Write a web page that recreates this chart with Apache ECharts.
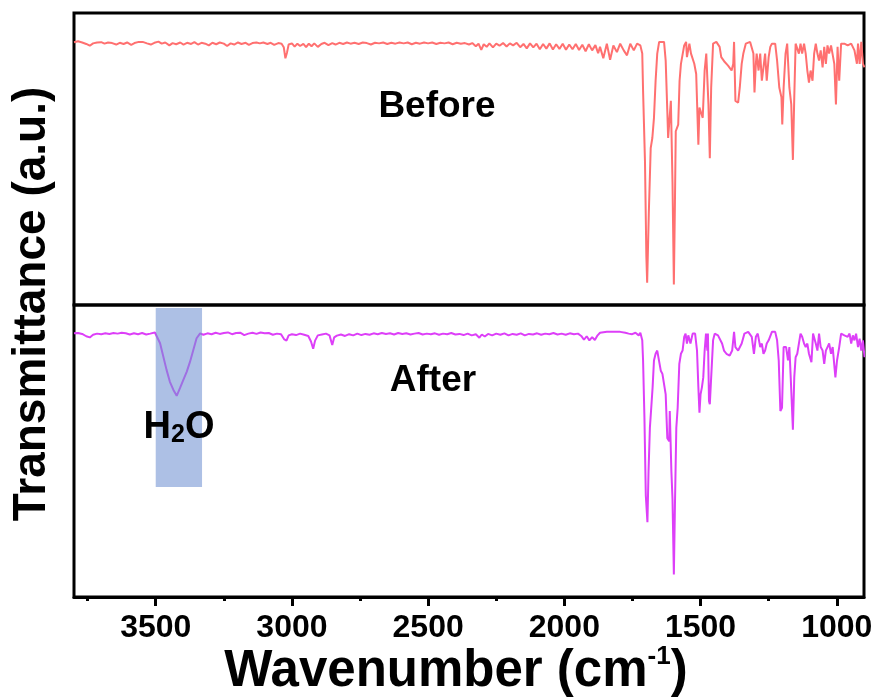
<!DOCTYPE html>
<html>
<head>
<meta charset="utf-8">
<script src="https://cdn.jsdelivr.net/npm/echarts@6/dist/echarts.min.js"></script>
<style>
  html, body { margin: 0; padding: 0; background: #fff; }
  #chart { width: 879px; height: 699px; }
</style>
</head>
<body>
<div id="chart"></div>
<script>
// x range of both panels (wavenumber, cm-1), axis runs high -> low
var xMin = 900
var xMax = 3800
var majorTicks = [3500, 3000, 2500, 2000, 1500, 1000]
var minorTicks = [3750, 3250, 2750, 2250, 1750, 1250]

// water band shading (bottom panel)
var waterBand = [3500, 3330]
var waterBandT = [99, 37.7]

// [wavenumber, transmittance]
var beforeSpectrum = [
  [3800,90.0],[3785,90.3],[3770,89.9],[3755,89.4],[3742,88.8],[3730,89.6],[3715,89.9],[3700,90.0],[3688,89.5],[3675,89.9],
  [3660,89.7],[3645,89.2],[3632,89.8],[3618,89.4],[3605,89.9],[3590,89.1],[3578,89.7],[3562,90.1],[3548,90.1],[3532,89.6],
  [3518,89.2],[3505,89.8],[3490,90.2],[3478,89.5],[3465,89.9],[3450,88.9],[3438,89.7],[3425,89.3],[3410,89.9],[3398,89.2],
  [3385,89.8],[3370,89.4],[3358,90.0],[3345,89.2],[3332,89.8],[3318,89.5],[3305,88.9],[3292,89.8],[3278,89.3],[3265,89.9],
  [3250,89.5],[3238,88.7],[3225,89.6],[3212,89.2],[3198,89.9],[3185,89.4],[3170,89.8],[3158,89.1],[3145,89.7],[3130,89.9],
  [3118,89.6],[3105,89.9],[3090,89.4],[3078,89.8],[3065,89.1],[3050,89.7],[3038,89.5],[3030,88.3],[3024,84.5],[3018,86.5],
  [3012,89.2],[3000,89.6],[2990,88.5],[2980,89.5],[2970,88.7],[2958,89.4],[2948,88.3],[2938,89.5],[2928,88.6],[2918,89.6],
  [2905,88.4],[2892,89.4],[2880,89.8],[2866,89.0],[2852,89.7],[2840,89.2],[2826,89.8],[2812,89.4],[2798,89.9],[2785,89.5],
  [2770,89.8],[2755,89.4],[2740,89.9],[2725,89.7],[2710,89.2],[2695,89.8],[2680,89.6],[2665,89.9],[2650,89.4],[2635,89.8],
  [2620,89.5],[2605,89.9],[2590,89.6],[2575,89.9],[2560,89.3],[2545,89.8],[2530,89.5],[2515,89.9],[2500,89.6],[2485,89.9],
  [2470,89.4],[2455,89.8],[2440,89.6],[2425,89.9],[2410,89.3],[2395,89.8],[2380,89.5],[2365,89.7],[2350,89.2],[2338,89.7],
  [2325,88.6],[2315,89.5],[2305,87.4],[2296,89.3],[2285,88.4],[2275,89.6],[2262,88.2],[2250,89.5],[2238,88.8],[2225,89.7],
  [2212,88.5],[2200,89.6],[2188,88.9],[2175,89.8],[2162,88.3],[2150,89.4],[2138,87.9],[2126,89.6],[2114,88.2],[2102,89.5],
  [2090,87.6],[2078,89.4],[2066,87.8],[2054,89.6],[2042,87.5],[2030,89.3],[2018,87.7],[2006,89.5],[1994,87.4],[1982,89.2],
  [1970,87.6],[1958,89.4],[1946,87.3],[1934,89.1],[1922,86.9],[1910,89.3],[1898,87.2],[1886,89.0],[1876,86.2],[1869,88.4],
  [1857,84.5],[1844,89.5],[1832,84.0],[1820,88.9],[1807,86.6],[1795,89.5],[1782,87.2],[1770,85.5],[1758,89.5],[1745,87.2],
  [1733,89.5],[1721,88.9],[1714,86.1],[1711,73.4],[1704,49.1],[1699,16.8],[1696,7.6],[1690,31.2],[1683,53.7],[1677,57.2],
  [1671,64.1],[1665,76.8],[1659,86.1],[1652,90.1],[1634,90.1],[1628,83.7],[1622,66.4],[1619,57.2],[1613,56.6],[1609,69.9],
  [1605,69.9],[1603,42.2],[1598,7.0],[1594,35.3],[1591,59.5],[1582,61.8],[1577,76.8],[1572,82.6],[1566,82.6],[1560,88.9],
  [1553,90.1],[1550,84.9],[1541,89.5],[1535,86.1],[1523,82.6],[1516,79.1],[1508,54.9],[1504,67.6],[1498,67.6],[1492,64.1],
  [1485,80.3],[1479,86.1],[1473,86.1],[1471,68.7],[1466,50.3],[1461,74.5],[1454,89.5],[1442,90.1],[1430,88.4],[1424,84.9],
  [1411,83.2],[1399,82.0],[1386,80.3],[1380,82.6],[1377,90.1],[1372,69.9],[1362,69.3],[1356,74.5],[1349,82.6],[1343,86.1],
  [1334,89.5],[1318,90.1],[1306,86.1],[1302,72.8],[1297,82.6],[1294,86.1],[1287,80.3],[1281,86.1],[1275,76.8],[1269,81.4],
  [1263,86.1],[1257,76.8],[1250,84.9],[1244,88.4],[1238,89.5],[1226,89.5],[1219,83.7],[1211,74.5],[1203,71.1],[1200,61.8],
  [1195,74.5],[1188,86.1],[1182,89.5],[1174,74.5],[1167,68.7],[1161,49.7],[1156,71.1],[1151,89.5],[1145,88.9],[1139,86.1],
  [1133,89.5],[1127,86.1],[1120,89.5],[1114,86.1],[1108,80.3],[1102,76.2],[1096,80.3],[1089,76.8],[1083,86.1],[1077,89.5],
  [1071,86.1],[1065,83.7],[1059,87.2],[1052,81.4],[1046,88.4],[1040,82.6],[1034,88.9],[1028,86.1],[1021,88.9],[1015,89.5],
  [1009,82.6],[1003,68.7],[997,88.4],[991,76.8],[984,89.5],[972,89.5],[960,88.9],[947,89.5],[935,87.2],[926,82.6],
  [922,89.5],[916,82.6],[910,90.1],[904,82.6],[898,81.4]
]

var afterSpectrum = [
  [3800,90.3],[3785,90.4],[3770,90.1],[3755,89.3],[3742,88.9],[3730,89.8],[3715,90.2],[3700,90.0],[3685,90.3],[3670,90.1],
  [3655,90.4],[3640,90.2],[3625,90.5],[3610,90.3],[3595,89.9],[3580,90.3],[3565,90.0],[3550,90.4],[3535,89.9],[3520,90.2],
  [3503,90.6],[3497,90.3],[3484,86.9],[3472,82.3],[3460,77.7],[3448,73.7],[3435,70.9],[3423,68.9],[3411,71.5],[3399,74.3],
  [3386,77.2],[3374,80.6],[3362,84.6],[3350,88.6],[3337,90.3],[3325,89.8],[3310,90.3],[3295,90.0],[3280,90.5],[3265,90.1],
  [3250,90.4],[3235,90.6],[3220,90.0],[3205,90.4],[3190,90.5],[3175,89.7],[3160,90.2],[3145,90.5],[3130,90.1],[3115,90.6],
  [3100,90.3],[3085,90.4],[3070,89.8],[3055,90.2],[3040,90.0],[3028,88.2],[3020,87.8],[3012,89.6],[3000,90.0],[2985,89.7],
  [2970,90.2],[2955,89.8],[2940,89.4],[2930,87.5],[2922,85.0],[2915,87.8],[2905,89.6],[2890,89.9],[2875,90.2],[2862,89.6],
  [2852,86.3],[2845,88.9],[2835,89.5],[2820,89.9],[2805,89.4],[2790,90.0],[2775,89.6],[2760,90.2],[2745,89.7],[2730,90.1],
  [2715,89.8],[2700,90.3],[2685,90.0],[2670,90.4],[2655,90.1],[2640,90.3],[2625,89.9],[2610,90.4],[2595,90.1],[2580,90.3],
  [2565,89.9],[2550,90.2],[2535,90.4],[2520,89.9],[2505,90.2],[2490,90.0],[2475,90.3],[2460,89.8],[2445,90.2],[2430,90.0],
  [2415,90.4],[2400,89.9],[2385,90.1],[2370,89.7],[2355,90.2],[2340,89.6],[2325,90.0],[2312,88.8],[2303,89.9],[2292,89.2],
  [2280,90.1],[2265,89.6],[2250,90.2],[2235,89.8],[2220,90.3],[2205,89.6],[2190,90.1],[2175,89.8],[2160,90.3],[2145,89.6],
  [2130,90.1],[2115,89.9],[2100,90.3],[2085,89.8],[2070,90.2],[2055,90.0],[2040,90.4],[2025,89.9],[2010,90.2],[1995,89.8],
  [1980,90.3],[1965,90.0],[1950,90.2],[1938,89.4],[1928,88.1],[1918,89.3],[1908,87.9],[1898,89.0],[1888,88.0],[1878,89.6],
  [1869,90.5],[1844,90.8],[1820,90.8],[1795,90.8],[1776,90.5],[1764,90.2],[1751,90.0],[1739,90.5],[1727,89.6],[1721,90.5],
  [1714,87.9],[1711,81.0],[1706,61.4],[1701,34.8],[1695,25.6],[1691,42.9],[1686,57.9],[1681,64.8],[1676,71.8],[1671,81.0],
  [1665,83.3],[1659,84.4],[1652,83.9],[1646,77.5],[1640,76.4],[1634,75.8],[1628,69.4],[1622,54.4],[1615,53.3],[1613,63.7],
  [1609,63.7],[1607,42.9],[1603,33.7],[1598,7.7],[1594,31.3],[1589,57.9],[1584,64.8],[1578,79.8],[1572,83.3],[1566,84.4],
  [1560,89.1],[1555,90.2],[1550,86.8],[1545,89.6],[1537,86.8],[1529,90.2],[1520,90.2],[1513,84.4],[1508,71.8],[1504,63.1],
  [1500,69.4],[1495,71.8],[1490,75.2],[1485,84.4],[1480,90.2],[1475,84.4],[1473,90.2],[1469,67.1],[1466,66.0],[1461,75.2],
  [1454,87.9],[1448,90.2],[1436,89.6],[1430,90.2],[1421,86.8],[1414,84.4],[1405,83.3],[1393,82.7],[1384,84.4],[1377,90.8],
  [1372,85.6],[1362,84.4],[1349,86.8],[1339,90.2],[1325,90.8],[1312,89.1],[1304,83.3],[1297,89.1],[1290,90.2],[1281,85.6],
  [1275,86.8],[1269,83.3],[1263,84.4],[1257,86.8],[1250,87.9],[1238,90.8],[1226,90.8],[1219,87.9],[1213,81.0],[1207,63.7],
  [1201,64.8],[1195,85.6],[1186,85.6],[1179,81.0],[1174,85.6],[1169,75.2],[1161,57.3],[1156,75.2],[1151,82.1],[1145,83.3],
  [1139,86.8],[1133,90.2],[1127,89.1],[1120,86.8],[1114,85.6],[1108,86.8],[1102,83.3],[1093,80.4],[1087,90.2],[1077,86.8],
  [1071,84.4],[1065,90.2],[1059,85.6],[1052,84.4],[1046,79.8],[1040,84.4],[1034,85.6],[1028,86.8],[1021,83.3],[1015,85.6],
  [1005,75.2],[999,81.0],[991,85.6],[984,90.2],[972,89.6],[960,89.1],[953,90.2],[947,86.8],[941,89.6],[935,87.9],
  [929,90.2],[922,85.6],[916,88.5],[910,84.4],[904,87.9],[898,82.1]
]

var chartDom = document.getElementById('chart')
var myChart = echarts.init(chartDom, null, { renderer: 'canvas' })

var font = "'Liberation Sans', Arial, sans-serif"

function hiddenY(gridIndex) {
  return {
    type: 'value', gridIndex: gridIndex, min: 0, max: 100,
    axisLine: { show: false }, axisTick: { show: false },
    axisLabel: { show: false }, splitLine: { show: false }
  }
}

var option = {
  animation: false,
  backgroundColor: '#fff',
  grid: [
    { left: 74, right: 15, top: 13, height: 292, show: true, borderColor: '#000', borderWidth: 3,
      containLabel: false, outerBoundsMode: 'none' },
    { left: 74, right: 15, top: 305, height: 292, show: true, borderColor: '#000', borderWidth: 3,
      containLabel: false, outerBoundsMode: 'none' }
  ],
  xAxis: [
    {
      type: 'value', gridIndex: 0, min: xMin, max: xMax, inverse: true,
      axisLine: { show: false }, axisTick: { show: false },
      axisLabel: { show: false }, splitLine: { show: false }
    },
    {
      type: 'value', gridIndex: 1, position: 'bottom', min: xMin, max: xMax, inverse: true,
      axisLine: { show: true, lineStyle: { color: '#000', width: 3 } },
      axisTick: { show: true, length: 9, lineStyle: { color: '#000', width: 3 }, customValues: majorTicks },
      axisLabel: {
        show: true, margin: 15, color: '#000', fontSize: 32, fontWeight: 'bold', fontFamily: font,
        customValues: majorTicks,
        formatter: function (v) { return String(v) }
      },
      splitLine: { show: false }
    },
    {
      type: 'value', gridIndex: 1, position: 'bottom', min: xMin, max: xMax, inverse: true,
      axisLine: { show: false },
      axisTick: { show: true, length: 4, lineStyle: { color: '#000', width: 3 }, customValues: minorTicks },
      axisLabel: { show: false },
      splitLine: { show: false }
    }
  ],
  yAxis: [hiddenY(0), hiddenY(1)],
  series: [
    {
      name: 'Before', type: 'line', xAxisIndex: 0, yAxisIndex: 0,
      data: beforeSpectrum, showSymbol: false, symbol: 'none',
      lineStyle: { color: '#ff7070', width: 2 }
    },
    {
      name: 'After', type: 'line', xAxisIndex: 1, yAxisIndex: 1,
      data: afterSpectrum, showSymbol: false, symbol: 'none',
      lineStyle: { color: '#dd3ff8', width: 2 },
      markArea: {
        silent: true, z: 10,
        itemStyle: { color: 'rgb(114,147,210)', opacity: 0.58 },
        data: [[
          { xAxis: waterBand[0], yAxis: waterBandT[0] },
          { xAxis: waterBand[1], yAxis: waterBandT[1] }
        ]]
      }
    }
  ],
  graphic: [
    {
      type: 'text', x: 32, y: 304, rotation: Math.PI / 2, z: 20,
      style: {
        text: 'Transmittance (a.u.)', fill: '#000', font: 'bold 46px ' + font,
        textAlign: 'center', textVerticalAlign: 'middle'
      }
    },
    {
      type: 'text', x: 456, y: 672, z: 20,
      style: {
        text: '{a|Wavenumber (cm}{s|-1}{a|)}',
        textAlign: 'center', textVerticalAlign: 'middle',
        rich: {
          a: { fontSize: 51, fontWeight: 'bold', fontFamily: font, fill: '#000', lineHeight: 56 },
          s: { fontSize: 26, fontWeight: 'bold', fontFamily: font, fill: '#000', lineHeight: 26, verticalAlign: 'top' }
        }
      }
    },
    {
      type: 'text', x: 437, y: 107, z: 20,
      style: { text: 'Before', fill: '#000', font: 'bold 37px ' + font, textAlign: 'center', textVerticalAlign: 'middle' }
    },
    {
      type: 'text', x: 433, y: 381, z: 20,
      style: { text: 'After', fill: '#000', font: 'bold 37px ' + font, textAlign: 'center', textVerticalAlign: 'middle' }
    },
    {
      type: 'text', x: 179, y: 428, z: 20,
      style: {
        text: '{a|H}{b|2}{a|O}',
        textAlign: 'center', textVerticalAlign: 'middle',
        rich: {
          a: { fontSize: 38, fontWeight: 'bold', fontFamily: font, fill: '#000', lineHeight: 40 },
          b: { fontSize: 25, fontWeight: 'bold', fontFamily: font, fill: '#000', lineHeight: 26, padding: [16, 0, 0, 0], verticalAlign: 'bottom' }
        }
      }
    }
  ]
}

myChart.setOption(option)
</script>
</body>
</html>
